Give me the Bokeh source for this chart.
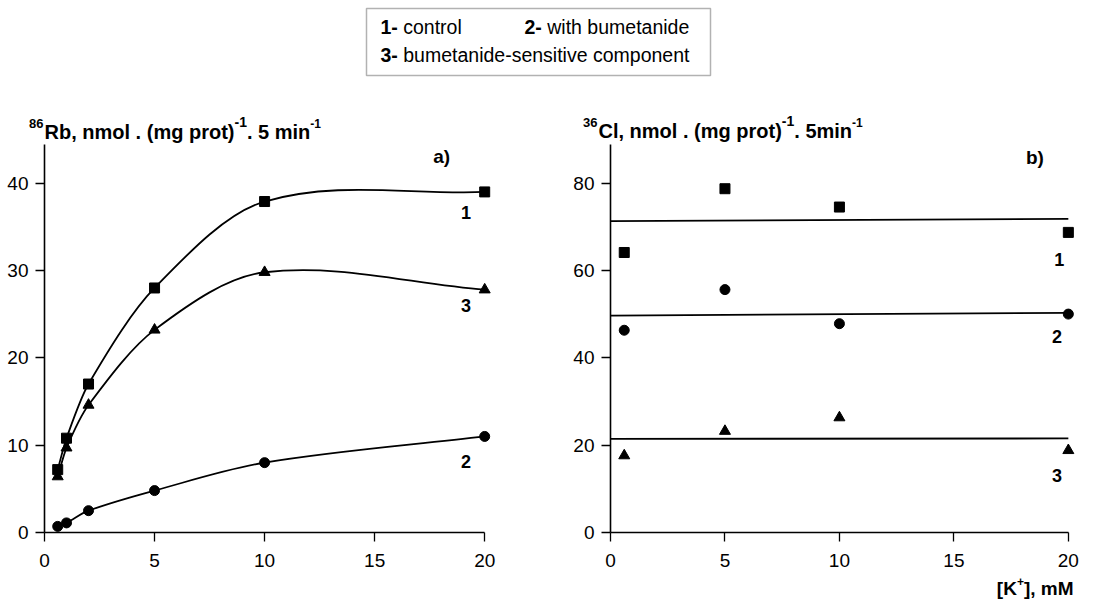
import numpy as np
from bokeh.plotting import figure
from bokeh.models import Range1d, Label, BoxAnnotation, FixedTicker
from bokeh.layouts import column, row
from bokeh.embed import file_html
from bokeh.resources import INLINE

# ---------------- data ----------------
k_rb = [0.6, 1, 2, 5, 10, 20]
rb_control = [7.2, 10.8, 17.0, 28.0, 37.9, 39.0]
rb_bumetanide = [0.7, 1.1, 2.5, 4.8, 8.0, 11.0]
rb_sensitive = [6.4, 9.7, 14.6, 23.2, 29.8, 27.8]

k_cl = [0.6, 5, 10, 20]
cl_control = [64.1, 78.7, 74.5, 68.7]
cl_bumetanide = [46.3, 55.6, 47.8, 50.0]
cl_sensitive = [17.6, 23.2, 26.3, 18.8]

x_ticks = [0, 5, 10, 15, 20]
rb_ticks = [0, 10, 20, 30, 40]
cl_ticks = [0, 20, 40, 60, 80]

legend_items = [("1-", "control"), ("2-", "with bumetanide"), ("3-", "bumetanide-sensitive component")]
series_names = ["1", "2", "3"]

FONT = "Liberation Sans"

BOLD = {' ': 278, ',': 278, '.': 278, '(': 333, ')': 333, '[': 333, ']': 333, '-': 333, '+': 584,
        'R': 722, 'C': 722, 'K': 722, 'M': 833, 'b': 611, 'n': 611, 'm': 889, 'o': 611, 'l': 278,
        'g': 611, 'p': 611, 'r': 389, 't': 333, 'i': 278}
REG = {' ': 278, '-': 333, 'c': 500, 'o': 556, 'n': 556, 't': 278, 'r': 333, 'l': 222, 'w': 722,
       'i': 222, 'h': 556, 'b': 556, 'u': 556, 'm': 833, 'e': 556, 'a': 556, 'd': 556, 's': 500,
       'v': 500, 'p': 556}


def tw(s, size, bold=True):
    t = BOLD if bold else REG
    return sum(t.get(c, 556) for c in s) * size / 1000.0


def put(p, x, y, text, size, bold=True, align="left", baseline="middle"):
    p.add_layout(Label(x=x, y=y, text=text, text_font=FONT,
                       text_font_size=f"{size}px", text_font_style="bold" if bold else "normal",
                       text_align=align, text_baseline=baseline, text_color="black"))


def compose(p, x, pieces):
    # pieces: (text, size, bold, centre_y, gap_before_in_spaces)
    for text, size, bold, cy, gap in pieces:
        x += gap * tw(" ", size, bold)
        put(p, x, cy, text, size, bold)
        x += tw(text, size, bold)
    return x


def smooth_segments(xs, ys):
    xs = np.asarray(xs, float)
    ys = np.asarray(ys, float)
    m = np.empty(len(xs))
    m[0] = (ys[1] - ys[0]) / (xs[1] - xs[0])
    m[-1] = (ys[-1] - ys[-2]) / (xs[-1] - xs[-2])
    m[1:-1] = (ys[2:] - ys[:-2]) / (xs[2:] - xs[:-2])
    dx = np.diff(xs)
    return dict(x0=xs[:-1], y0=ys[:-1], x1=xs[1:], y1=ys[1:],
                cx0=xs[:-1] + dx / 3, cy0=ys[:-1] + m[:-1] * dx / 3,
                cx1=xs[1:] - dx / 3, cy1=ys[1:] - m[1:] * dx / 3)


def strip(height, y0):
    s = figure(width=1117, height=height, x_range=Range1d(0, 1117), y_range=Range1d(y0 + height, y0),
               output_backend="svg", toolbar_location=None, min_border=0,
               x_axis_location=None, y_axis_location=None)
    s.grid.visible = False
    s.outline_line_color = None
    return s


def panel(width, height, xr, yr, bl, br, bb, yticks):
    p = figure(width=width, height=height, x_range=Range1d(*xr), y_range=Range1d(*yr),
               output_backend="svg", toolbar_location=None,
               min_border_left=bl, min_border_right=br, min_border_top=0, min_border_bottom=bb)
    p.grid.visible = False
    p.outline_line_color = None
    for ax in (p.xaxis[0], p.yaxis[0]):
        ax.axis_line_width = 1.6
        ax.axis_line_color = "black"
        ax.major_tick_line_width = 1.3
        ax.major_tick_line_color = "black"
        ax.major_tick_out = 9
        ax.major_tick_in = 0
        ax.minor_tick_line_color = None
        ax.major_label_text_font = FONT
        ax.major_label_text_font_size = "19px"
        ax.major_label_text_color = "black"
    p.xaxis.ticker = FixedTicker(ticks=x_ticks)
    p.xaxis.bounds = (x_ticks[0], x_ticks[-1])
    p.xaxis.major_label_standoff = 12
    p.yaxis.ticker = FixedTicker(ticks=yticks)
    p.yaxis.bounds = yr
    p.yaxis.major_label_standoff = 7
    return p


# ---------------- top strip: legend + y titles ----------------
TOP_H = 144
top = strip(TOP_H, 0)
top.add_layout(BoxAnnotation(left=366, right=710, top=8, bottom=75, fill_alpha=0,
                             line_color="black", line_width=1.5))
LS = 19.5
compose(top, 380, [(legend_items[0][0], LS, True, 26.5, 0), (legend_items[0][1], LS, False, 26.5, 1)])
compose(top, 524, [(legend_items[1][0], LS, True, 26.5, 0), (legend_items[1][1], LS, False, 26.5, 1)])
compose(top, 380, [(legend_items[2][0], LS, True, 54.5, 0), (legend_items[2][1], LS, False, 54.5, 1)])

put(top, 43, 123, "86", 13, True, align="right")
compose(top, 44, [("Rb, nmol . (mg prot)", 20, True, 131.5, 0), ("-1", 14, True, 121, 0),
                  (". 5 min", 20, True, 131.5, 0), ("-1", 12, True, 123, 0)])
put(top, 597, 122, "36", 13, True, align="right")
compose(top, 598, [("Cl, nmol . (mg prot)", 20, True, 130.5, 0), ("-1", 14, True, 120, 0),
                   (". 5min", 20, True, 130.5, 0), ("-1", 12, True, 122, 0)])

# ---------------- panel a ----------------
PH = 575 - TOP_H
pa = panel(560, PH, (0, 20.4), (0, 44.43), 44, 67, 43, rb_ticks)
for ys, marker, size in ((rb_control, "square", 10), (rb_sensitive, "triangle", 11),
                         (rb_bumetanide, "circle", 10)):
    pa.bezier(**smooth_segments(k_rb, ys), line_color="black", line_width=1.8)
    pa.scatter(k_rb, ys, marker=marker, size=size, fill_color="black", line_color="black")
put(pa, 17.66, 43.05, "a)", 19, True)
put(pa, 19.15, 36.6, series_names[0], 18, True, align="center")
put(pa, 19.15, 26.0, series_names[2], 18, True, align="center")
put(pa, 19.15, 8.1, series_names[1], 18, True, align="center")

# ---------------- panel b ----------------
pb = panel(557, PH, (0, 20.4), (0, 88.82), 50, 40, 41, cl_ticks)
for ys, marker, size in ((cl_control, "square", 10), (cl_bumetanide, "circle", 10),
                         (cl_sensitive, "triangle", 11)):
    slope, icpt = np.polyfit(k_cl, ys, 1)
    xx = np.array([x_ticks[0], max(k_cl)])
    pb.line(xx, slope * xx + icpt, line_color="black", line_width=1.8)
    pb.scatter(k_cl, ys, marker=marker, size=size, fill_color="black", line_color="black")
put(pb, 18.15, 85.8, "b)", 19, True)
put(pb, 19.6, 62.4, series_names[0], 18, True, align="center")
put(pb, 19.5, 44.9, series_names[1], 18, True, align="center")
put(pb, 19.5, 13.1, series_names[2], 18, True, align="center")

# ---------------- bottom strip: x title ----------------
bot = strip(28, 575)
xr_end = 1073
w3 = tw("], mM", 19, True)
w2 = tw("+", 12, True)
put(bot, xr_end, 587.5, "], mM", 19, True, align="right")
put(bot, xr_end - w3, 581, "+", 12, True, align="right")
put(bot, xr_end - w3 - w2, 587.5, "[K", 19, True, align="right")

layout = column(top, row(pa, pb), bot)
open("out.html", "w").write(file_html(layout, INLINE))
